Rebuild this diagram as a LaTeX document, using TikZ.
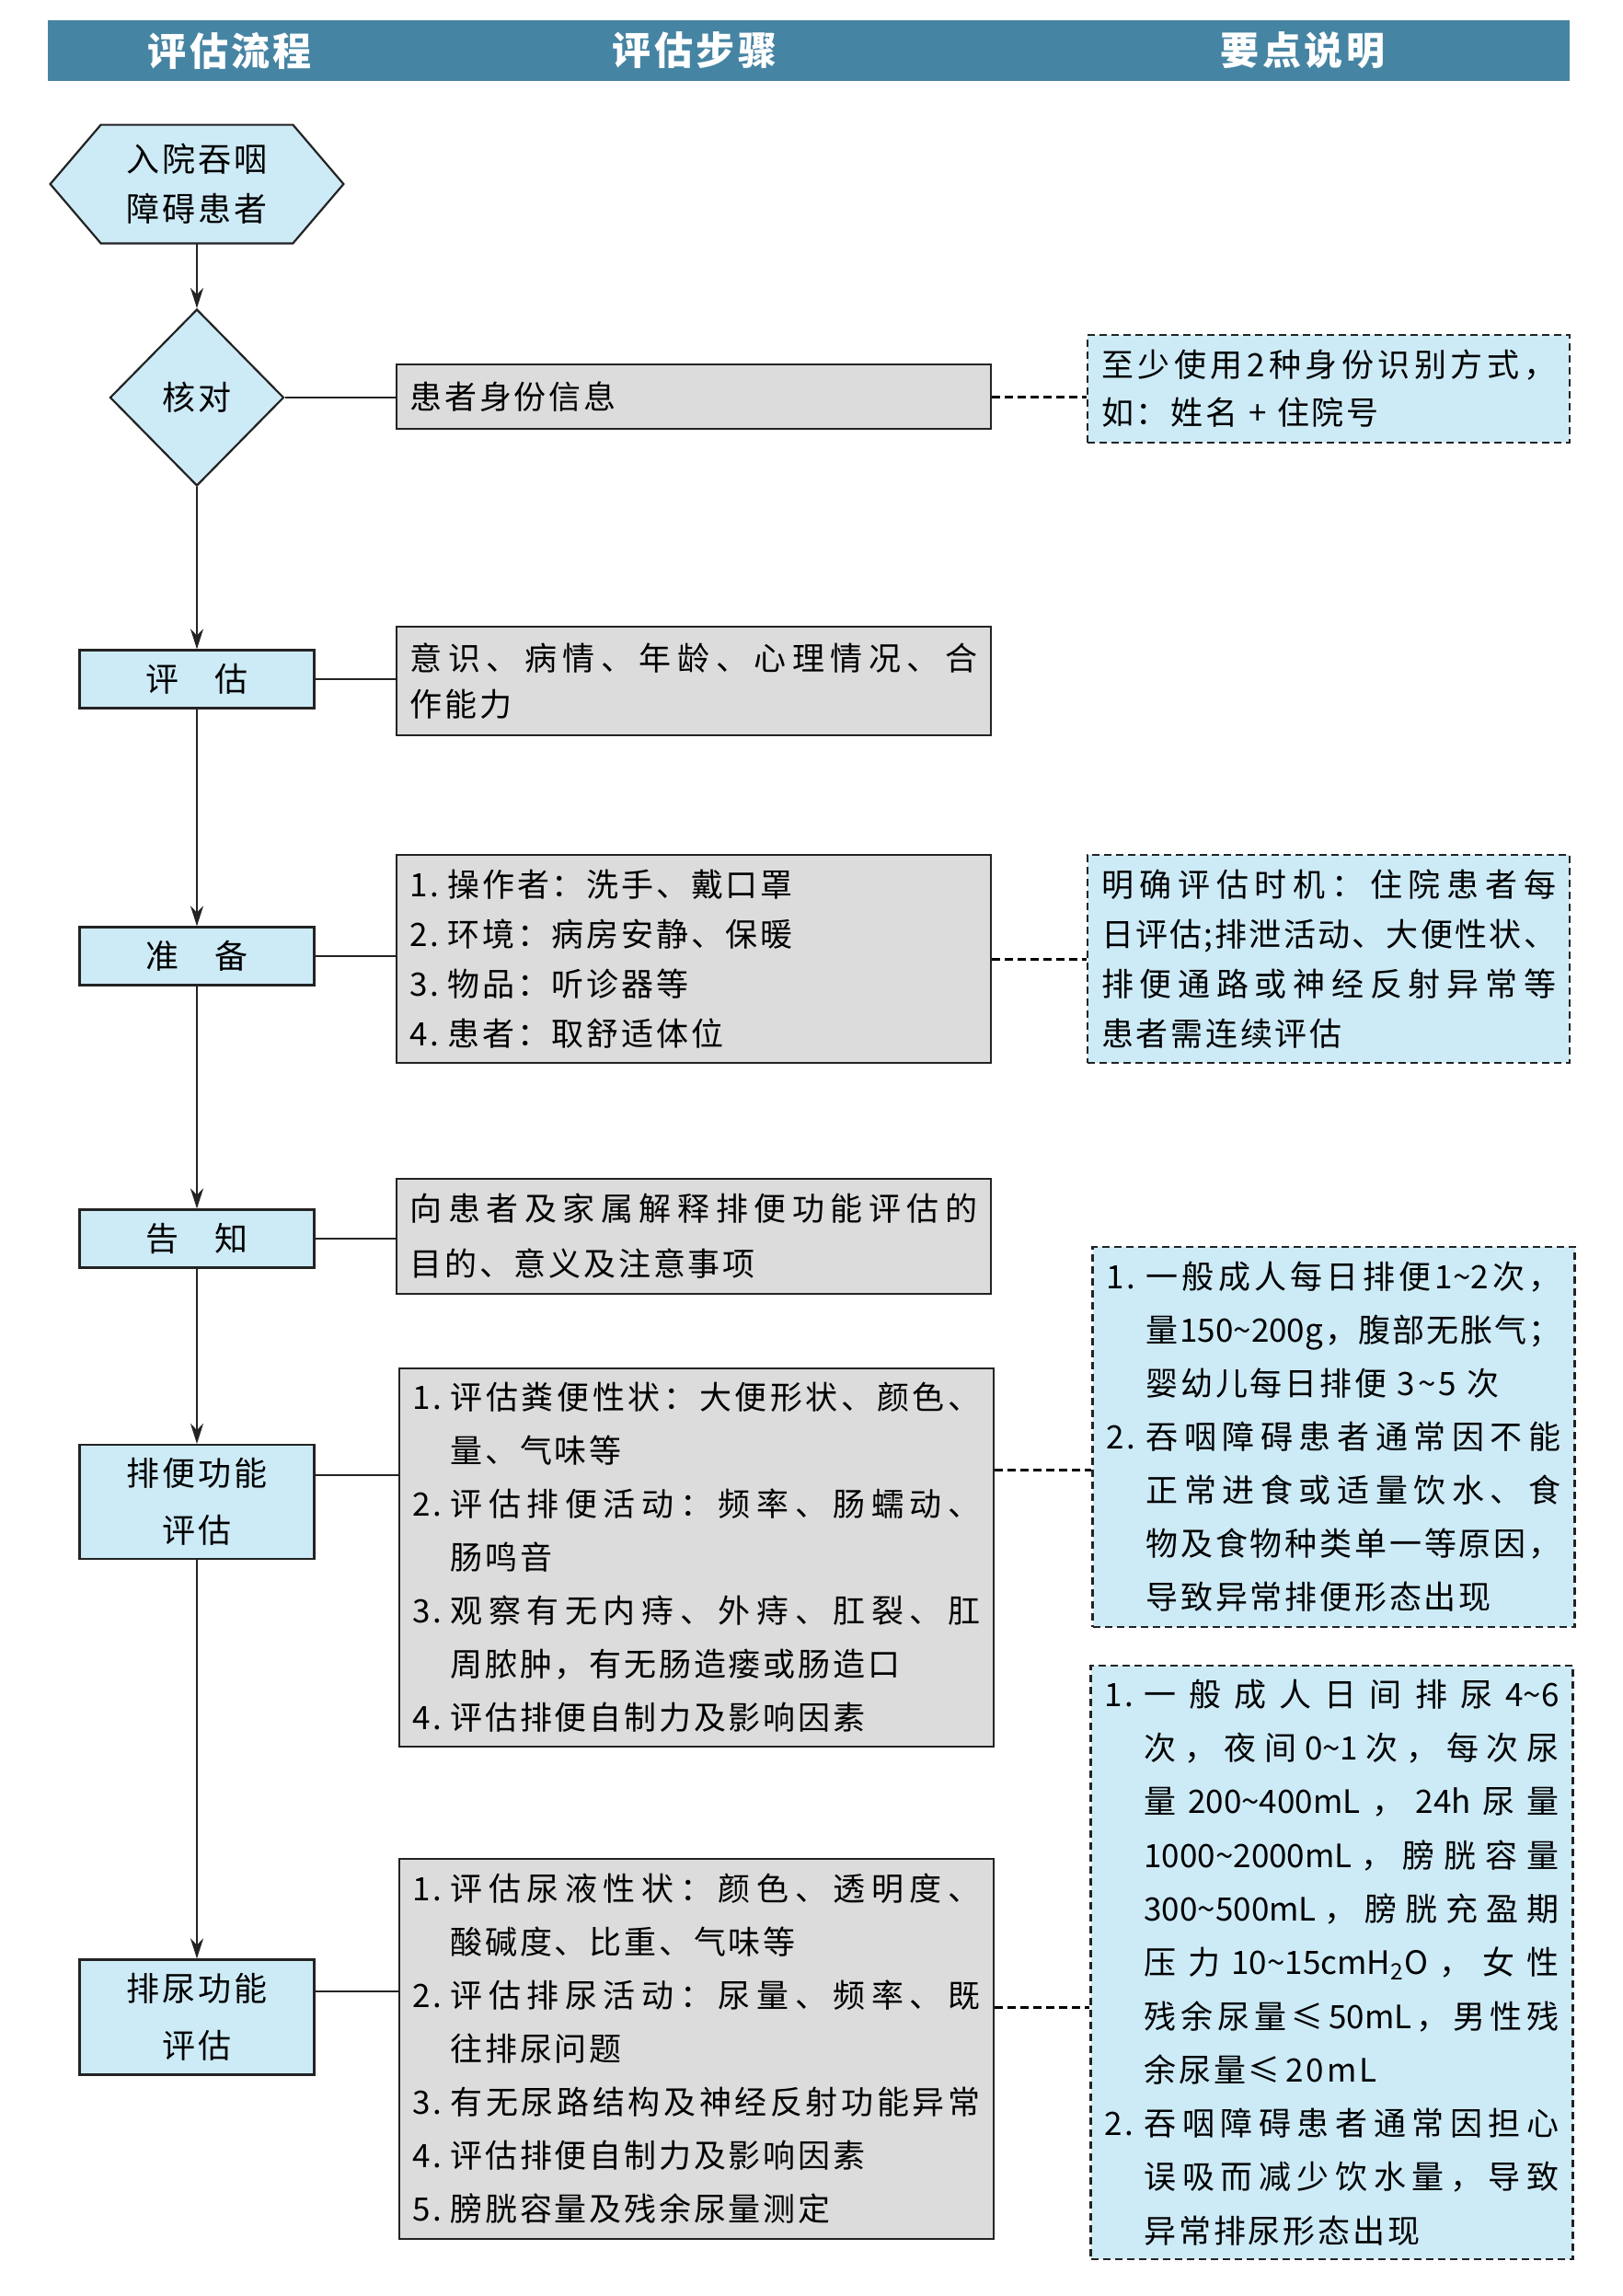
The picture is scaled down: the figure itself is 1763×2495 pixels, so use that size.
\documentclass[tikz,border=0pt]{standalone}
\usepackage{fontspec}
\setmainfont[LetterSpace=8]{Noto Sans CJK SC}
\newfontfamily\plainf{Noto Sans CJK SC}
\usetikzlibrary{arrows.meta,shapes.geometric,backgrounds}
\definecolor{hdr}{RGB}{70,132,163}
\definecolor{bfill}{RGB}{205,235,247}
\definecolor{gfill}{RGB}{220,220,220}
\definecolor{lc}{RGB}{35,35,35}
\setlength\parindent{0pt}
\def\jendmark{}
\def\jend{\jendmark}
\newcommand\jl[2]{\makebox[#1][s]{\plainf\jfirst#2\jend}}
\def\jfirst#1{#1\jrest}
\def\jrest#1{\ifx\jend#1\else\hfil#1\expandafter\jrest\fi}
\newcommand\mitm[2]{\makebox[20.5pt][l]{#1}\jl{288pt}{#2}}
\newcommand\mitmn[2]{\makebox[20.5pt][l]{#1}#2}
\newcommand\mcnt[1]{\hspace*{20.5pt}#1}
\newcommand\nitm[2]{\makebox[21.5pt][l]{#1}\jl{225.5pt}{#2}}
\newcommand\ncnt[1]{\hspace*{21.5pt}\jl{225.5pt}{#1}}
\newcommand\ncntn[1]{\hspace*{21.5pt}#1}
\tikzset{
  gbox/.style={draw=lc, fill=gfill, line width=1.1pt, text width=308.5pt, inner xsep=7.25pt, inner ysep=0pt, align=left, minimum width=323pt},
  nbox/.style={draw=lc, fill=bfill, line width=1.1pt, dash pattern=on 4pt off 2.5pt, text width=247pt, inner xsep=7.5pt, inner ysep=0pt, align=left, minimum width=262pt},
  lbox/.style={draw=lc, fill=bfill, line width=1.1pt, minimum width=127.5pt, inner sep=0pt, align=center, font=\fontsize{18}{31}\selectfont},
  conn/.style={draw=lc, line width=1.1pt},
  dconn/.style={draw=black, line width=1.5pt, dash pattern=on 4.5pt off 2.5pt},
  vline/.style={draw=lc, line width=1pt, -{Stealth[length=11pt,width=7pt]}},
  htext/.style={text=white, font=\fontsize{21}{25}\selectfont\bfseries},
}
\begin{document}
\begin{tikzpicture}[x=0.5pt,y=-0.5pt]
\useasboundingbox (0,0) rectangle (1763,2495);
% header
\node[fill=hdr, minimum width=827pt, minimum height=33pt, inner sep=0pt] (hd) at (879,55) {};
\node[htext] (h1) at (250,55) {评估流程};
\node[htext] (h2) at (755,55) {评估步骤};
\node[htext] (h3) at (1416,55) {要点说明};
% left column
\node[minimum width=159pt, minimum height=64pt, inner sep=0pt, align=center, font=\fontsize{18}{27}\selectfont] (start) at (214,200) {入院吞咽\\障碍患者};
\begin{scope}[on background layer]
\fill[white] (0,0) rectangle (1763,2495);
\draw[draw=lc, fill=bfill, line width=1.1pt] (start.west) -- ([xshift=27.5pt]start.north west) -- ([xshift=-27.5pt]start.north east) -- (start.east) -- ([xshift=-27.5pt]start.south east) -- ([xshift=27.5pt]start.south west) -- cycle;
\end{scope}
\node[diamond, draw=lc, fill=bfill, line width=1.1pt, minimum width=94.5pt, minimum height=96pt, inner sep=0pt, font=\fontsize{18}{22}\selectfont] (kd) at (214,432) {核对};
\node[lbox, minimum height=31.5pt] (pg) at (214,738) {评\hspace{20pt}估};
\node[lbox, minimum height=31.5pt] (pb) at (214,1039) {准\hspace{20pt}备};
\node[lbox, minimum height=31.5pt] (gz) at (214,1346) {告\hspace{20pt}知};
\node[lbox, minimum height=62pt] (pbf) at (214,1632) {排便功能\\评估};
\node[lbox, minimum height=62.5pt] (pnf) at (214,2192) {排尿功能\\评估};
% middle column
\node[gbox, minimum height=35pt, font=\fontsize{17.5}{29}\selectfont] (b1) at (754,431) {患者身份信息};
\node[gbox, minimum height=59pt, font=\fontsize{17.5}{25}\selectfont] (b2) at (754,740) {\jl{308.5pt}{意识、病情、年龄、心理情况、合}\\作能力};
\node[gbox, minimum height=113pt, font=\fontsize{17.5}{27}\selectfont] (b3) at (754,1042) {\mitmn{1.}{操作者：洗手、戴口罩}\\\mitmn{2.}{环境：病房安静、保暖}\\\mitmn{3.}{物品：听诊器等}\\\mitmn{4.}{患者：取舒适体位}};
\node[gbox, minimum height=62.5pt, font=\fontsize{17.5}{30}\selectfont] (b4) at (754,1343.5) {\jl{308.5pt}{向患者及家属解释排便功能评估的}\\目的、意义及注意事项};
\node[gbox, minimum height=205.5pt, font=\fontsize{17.5}{29}\selectfont] (b5) at (757,1692.5) {\mitm{1.}{评估粪便性状：大便形状、颜色、}\\\mcnt{量、气味等}\\\mitm{2.}{评估排便活动：频率、肠蠕动、}\\\mcnt{肠鸣音}\\\mitm{3.}{观察有无内痔、外痔、肛裂、肛}\\\mcnt{周脓肿，有无肠造瘘或肠造口}\\\mitmn{4.}{评估排便自制力及影响因素}};
\node[gbox, minimum height=206.5pt, font=\fontsize{17.5}{29}\selectfont] (b6) at (757,2226.5) {\mitm{1.}{评估尿液性状：颜色、透明度、}\\\mcnt{酸碱度、比重、气味等}\\\mitm{2.}{评估排尿活动：尿量、频率、既}\\\mcnt{往排尿问题}\\\mitm{3.}{有无尿路结构及神经反射功能异常}\\\mitmn{4.}{评估排便自制力及影响因素}\\\mitmn{5.}{膀胱容量及残余尿量测定}};
% right column
\node[nbox, minimum height=58.5pt, font=\fontsize{17.5}{26}\selectfont] (n1) at (1444,422.5) {\jl{247pt}{至少使用2种身份识别方式，}\\如：姓名 + 住院号};
\node[nbox, minimum height=113pt, font=\fontsize{17.5}{27}\selectfont] (n2) at (1444,1042) {\jl{247pt}{明确评估时机：住院患者每}\\\jl{247pt}{日评估;排泄活动、大便性状、}\\\jl{247pt}{排便通路或神经反射异常等}\\患者需连续评估};
\node[nbox, minimum width=261.5pt, minimum height=206.5pt, font=\fontsize{17.5}{29}\selectfont] (n3) at (1449.5,1561.5) {\nitm{1.}{一般成人每日排便{1\textasciitilde 2}次，}\\\ncnt{量{150\textasciitilde 200g}，腹部无胀气；}\\\ncntn{婴幼儿每日排便 3\textasciitilde 5 次}\\\nitm{2.}{吞咽障碍患者通常因不能}\\\ncnt{正常进食或适量饮水、食}\\\ncnt{物及食物种类单一等原因，}\\\ncntn{导致异常排便形态出现}};
\node[nbox, minimum width=261.5pt, minimum height=322.5pt, font=\fontsize{17.5}{29.15}\selectfont] (n4) at (1447.5,2132.5) {\nitm{1.}{一般成人日间排尿{4\textasciitilde 6}}\\\ncnt{次，夜间{0\textasciitilde 1}次，每次尿}\\\ncnt{量{200\textasciitilde 400mL}，{24h}尿量}\\\ncnt{{1000\textasciitilde 2000mL}，膀胱容量}\\\ncnt{{300\textasciitilde 500mL}，膀胱充盈期}\\\ncnt{压力{10\textasciitilde 15cmH\textsubscript{2}O}，女性}\\\ncnt{残余尿量{≤\,50mL}，男性残}\\\ncntn{余尿量≤\,20mL}\\\nitm{2.}{吞咽障碍患者通常因担心}\\\ncnt{误吸而减少饮水量，导致}\\\ncntn{异常排尿形态出现}};
% flow arrows
\draw[vline] (start.south) -- (kd.north);
\draw[vline] (kd.south) -- (pg.north);
\draw[vline] (pg.south) -- (pb.north);
\draw[vline] (pb.south) -- (gz.north);
\draw[vline] (gz.south) -- (pbf.north);
\draw[vline] (pbf.south) -- (pnf.north);
% connectors
\coordinate (y1) at (0,1603);
\coordinate (y2) at (0,1597);
\coordinate (y3) at (0,2164);
\coordinate (y4) at (0,2181);
\draw[conn] (kd.east) -- (kd.east -| b1.west);
\draw[dconn] (b1.east) -- (b1.east -| n1.west);
\draw[conn] (pg.east) -- (pg.east -| b2.west);
\draw[conn] (pb.east) -- (pb.east -| b3.west);
\draw[dconn] (b3.east) -- (b3.east -| n2.west);
\draw[conn] (gz.east) -- (gz.east -| b4.west);
\draw[conn] (pbf.east |- y1) -- (b5.west |- y1);
\draw[dconn] (b5.east |- y2) -- (n3.west |- y2);
\draw[conn] (pnf.east |- y3) -- (b6.west |- y3);
\draw[dconn] (b6.east |- y4) -- (n4.west |- y4);
\end{tikzpicture}
\end{document}
